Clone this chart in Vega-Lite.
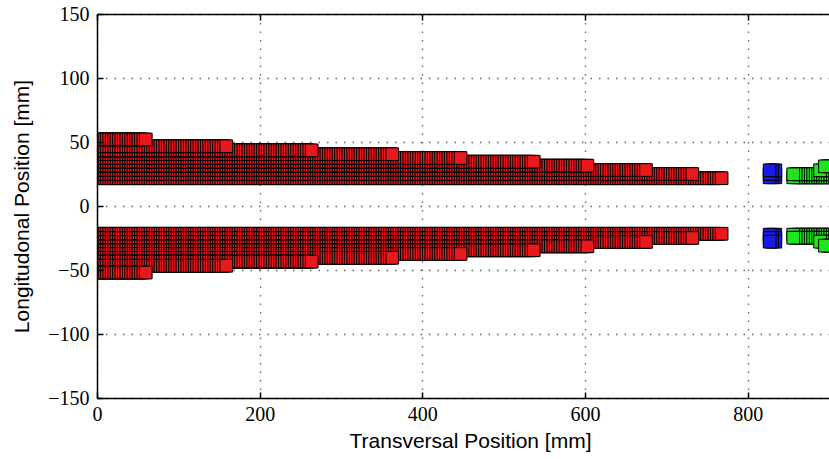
{
"$schema":"https://vega.github.io/schema/vega-lite/v6.json",
"width":732,"height":384,
"autosize":{"type":"none"},
"padding":{"left":97,"top":14,"right":0,"bottom":61},
"background":"white",
"config":{"view":{"stroke":null},
"axis":{"labelFont":"Liberation Serif","labelFontSize":20,"labelColor":"black","titleFont":"Liberation Sans","titleFontSize":21,"titleFontWeight":"normal","titleColor":"black","domainColor":"black","domainWidth":1.5,"tickColor":"black","tickWidth":1.5,"tickSize":-6,"gridColor":"#666","gridDash":[1.5,7],"gridWidth":1.3,"labelFlush":false,"labelOverlap":false,"labelBound":false}},
"datasets":{
"red":[
{"t":21.7,"b":-21.7,"x":[0,3,6,9,12,15,18,21,24,27,30,33,36,39,42,45,48,51,54,57,60,63,66,69,72,75,78,81,84,87,90,93,96,99,102,105,108,111,114,117,120,123,126,129,132,135,138,141,144,147,150,153,156,159,162,165,168,171,174,177,180,183,186,189,192,195,198,201,204,207,210,213,216,219,222,225,228,231,234,237,240,243,246,249,252,255,258,261,264,267,270,273,276,279,282,285,288,291,294,297,300,303,306,309,312,315,318,321,324,327,330,333,336,339,342,345,348,351,354,357,360,363,366,369,372,375,378,381,384,387,390,393,396,399,402,405,408,411,414,417,420,423,426,429,432,435,438,441,444,447,450,453,456,459,462,465,468,471,474,477,480,483,486,489,492,495,498,501,504,507,510,513,516,519,522,525,528,531,534,537,540,543,546,549,552,555,558,561,564,567,570,573,576,579,582,585,588,591,594,597,600,603,606,609,612,615,618,621,624,627,630,633,636,639,642,645,648,651,654,657,660,663,666,669,672,675,678,681,684,687,690,693,696,699,702,705,708,711,714,717,720,723,726,729,732,735,738,741,744,747,750,753,756,759,762,765,768]},
{"t":25,"b":-25,"x":[0,3,6,9,12,15,18,21,24,27,30,33,36,39,42,45,48,51,54,57,60,63,66,69,72,75,78,81,84,87,90,93,96,99,102,105,108,111,114,117,120,123,126,129,132,135,138,141,144,147,150,153,156,159,162,165,168,171,174,177,180,183,186,189,192,195,198,201,204,207,210,213,216,219,222,225,228,231,234,237,240,243,246,249,252,255,258,261,264,267,270,273,276,279,282,285,288,291,294,297,300,303,306,309,312,315,318,321,324,327,330,333,336,339,342,345,348,351,354,357,360,363,366,369,372,375,378,381,384,387,390,393,396,399,402,405,408,411,414,417,420,423,426,429,432,435,438,441,444,447,450,453,456,459,462,465,468,471,474,477,480,483,486,489,492,495,498,501,504,507,510,513,516,519,522,525,528,531,534,537,540,543,546,549,552,555,558,561,564,567,570,573,576,579,582,585,588,591,594,597,600,603,606,609,612,615,618,621,624,627,630,633,636,639,642,645,648,651,654,657,660,663,666,669,672,675,678,681,684,687,690,693,696,699,702,705,708,711,714,717,720,723,726,729,732]},
{"t":28.1,"b":-28.1,"x":[0,3,6,9,12,15,18,21,24,27,30,33,36,39,42,45,48,51,54,57,60,63,66,69,72,75,78,81,84,87,90,93,96,99,102,105,108,111,114,117,120,123,126,129,132,135,138,141,144,147,150,153,156,159,162,165,168,171,174,177,180,183,186,189,192,195,198,201,204,207,210,213,216,219,222,225,228,231,234,237,240,243,246,249,252,255,258,261,264,267,270,273,276,279,282,285,288,291,294,297,300,303,306,309,312,315,318,321,324,327,330,333,336,339,342,345,348,351,354,357,360,363,366,369,372,375,378,381,384,387,390,393,396,399,402,405,408,411,414,417,420,423,426,429,432,435,438,441,444,447,450,453,456,459,462,465,468,471,474,477,480,483,486,489,492,495,498,501,504,507,510,513,516,519,522,525,528,531,534,537,540,543,546,549,552,555,558,561,564,567,570,573,576,579,582,585,588,591,594,597,600,603,606,609,612,615,618,621,624,627,630,633,636,639,642,645,648,651,654,657,660,663,666,669,672,675]},
{"t":31.5,"b":-31.5,"x":[0,3,6,9,12,15,18,21,24,27,30,33,36,39,42,45,48,51,54,57,60,63,66,69,72,75,78,81,84,87,90,93,96,99,102,105,108,111,114,117,120,123,126,129,132,135,138,141,144,147,150,153,156,159,162,165,168,171,174,177,180,183,186,189,192,195,198,201,204,207,210,213,216,219,222,225,228,231,234,237,240,243,246,249,252,255,258,261,264,267,270,273,276,279,282,285,288,291,294,297,300,303,306,309,312,315,318,321,324,327,330,333,336,339,342,345,348,351,354,357,360,363,366,369,372,375,378,381,384,387,390,393,396,399,402,405,408,411,414,417,420,423,426,429,432,435,438,441,444,447,450,453,456,459,462,465,468,471,474,477,480,483,486,489,492,495,498,501,504,507,510,513,516,519,522,525,528,531,534,537,540,543,546,549,552,555,558,561,564,567,570,573,576,579,582,585,588,591,594,597,600,603]},
{"t":34.6,"b":-34.6,"x":[0,3,6,9,12,15,18,21,24,27,30,33,36,39,42,45,48,51,54,57,60,63,66,69,72,75,78,81,84,87,90,93,96,99,102,105,108,111,114,117,120,123,126,129,132,135,138,141,144,147,150,153,156,159,162,165,168,171,174,177,180,183,186,189,192,195,198,201,204,207,210,213,216,219,222,225,228,231,234,237,240,243,246,249,252,255,258,261,264,267,270,273,276,279,282,285,288,291,294,297,300,303,306,309,312,315,318,321,324,327,330,333,336,339,342,345,348,351,354,357,360,363,366,369,372,375,378,381,384,387,390,393,396,399,402,405,408,411,414,417,420,423,426,429,432,435,438,441,444,447,450,453,456,459,462,465,468,471,474,477,480,483,486,489,492,495,498,501,504,507,510,513,516,519,522,525,528,531,534,537]},
{"t":37.5,"b":-37.5,"x":[0,3,6,9,12,15,18,21,24,27,30,33,36,39,42,45,48,51,54,57,60,63,66,69,72,75,78,81,84,87,90,93,96,99,102,105,108,111,114,117,120,123,126,129,132,135,138,141,144,147,150,153,156,159,162,165,168,171,174,177,180,183,186,189,192,195,198,201,204,207,210,213,216,219,222,225,228,231,234,237,240,243,246,249,252,255,258,261,264,267,270,273,276,279,282,285,288,291,294,297,300,303,306,309,312,315,318,321,324,327,330,333,336,339,342,345,348,351,354,357,360,363,366,369,372,375,378,381,384,387,390,393,396,399,402,405,408,411,414,417,420,423,426,429,432,435,438,441,444,447]},
{"t":40.5,"b":-40.5,"x":[0,3,6,9,12,15,18,21,24,27,30,33,36,39,42,45,48,51,54,57,60,63,66,69,72,75,78,81,84,87,90,93,96,99,102,105,108,111,114,117,120,123,126,129,132,135,138,141,144,147,150,153,156,159,162,165,168,171,174,177,180,183,186,189,192,195,198,201,204,207,210,213,216,219,222,225,228,231,234,237,240,243,246,249,252,255,258,261,264,267,270,273,276,279,282,285,288,291,294,297,300,303,306,309,312,315,318,321,324,327,330,333,336,339,342,345,348,351,354,357,360,363]},
{"t":43.5,"b":-43.5,"x":[0,3,6,9,12,15,18,21,24,27,30,33,36,39,42,45,48,51,54,57,60,63,66,69,72,75,78,81,84,87,90,93,96,99,102,105,108,111,114,117,120,123,126,129,132,135,138,141,144,147,150,153,156,159,162,165,168,171,174,177,180,183,186,189,192,195,198,201,204,207,210,213,216,219,222,225,228,231,234,237,240,243,246,249,252,255,258,261,264]},
{"t":46.7,"b":-46.7,"x":[0,3,6,9,12,15,18,21,24,27,30,33,36,39,42,45,48,51,54,57,60,63,66,69,72,75,78,81,84,87,90,93,96,99,102,105,108,111,114,117,120,123,126,129,132,135,138,141,144,147,150,153,156,159]},
{"t":52,"b":-52,"x":[0,3,6,9,12,15,18,21,24,27,30,33,36,39,42,45,48,51,54,57,60]}
],
"blue":[
{"t":22.4,"b":-22.4,"x":[834,830,827]},
{"t":25,"b":-25,"x":[834,830,827]},
{"t":27.9,"b":-27.9,"x":[834,830,827]}
],
"green":[
{"t":22.4,"b":-22.4,"x":[904,901,898,895,892,889,886,883,880,877,874,871,868,865,862,859,856]},
{"t":24.8,"b":-24.8,"x":[904,901,898,895,892,889,886,883,880,877,874,871,868,865,862,859,856]},
{"t":27.9,"b":-27.9,"x":[904,901,898,895,892,889]},
{"t":31,"b":-31,"x":[904,901,898,895]}
]
},
"resolve":{"axis":{"x":"independent","y":"independent"}},
"layer":[
{"data":{"name":"red"},
"transform":[{"flatten":["x"]},{"fold":["t","b"],"as":["side","y"]}],
"mark":{"type":"square","size":160,"fill":"#e8191c","stroke":"black","strokeWidth":1,"opacity":1,"fillOpacity":1,"clip":true},
"encoding":{
"x":{"field":"x","type":"quantitative","scale":{"domain":[0,900],"nice":false,"zero":false},"axis":{"orient":"bottom","values":[0,200,400,600,800],"grid":true,"labels":false,"ticks":false,"domain":false,"title":null,"zindex":0}},
"y":{"field":"y","type":"quantitative","scale":{"domain":[-150,150],"nice":false,"zero":false},"axis":{"orient":"left","values":[-150,-100,-50,0,50,100,150],"grid":true,"labels":false,"ticks":false,"domain":false,"title":null,"zindex":0}}}},
{"data":{"name":"blue"},
"transform":[{"flatten":["x"]},{"fold":["t","b"],"as":["side","y"]}],
"mark":{"type":"square","size":160,"fill":"#1a1ae6","stroke":"black","strokeWidth":1,"opacity":1,"fillOpacity":1,"clip":true},
"encoding":{
"x":{"field":"x","type":"quantitative","scale":{"domain":[0,900],"nice":false,"zero":false},"axis":{"orient":"bottom","values":[0,200,400,600,800],"format":"d","grid":false,"labelPadding":12,"title":"Transversal Position [mm]","titleX":373,"titleY":49,"titleBaseline":"alphabetic","titleAlign":"center","zindex":1}},
"y":{"field":"y","type":"quantitative","scale":{"domain":[-150,150],"nice":false,"zero":false},"axis":{"orient":"left","values":[-150,-100,-50,0,50,100,150],"format":"d","grid":false,"labelPadding":14,"title":"Longitudonal Position [mm]","titleX":-69,"titleY":192,"titleAngle":270,"titleBaseline":"alphabetic","titleAlign":"center","zindex":1}}}},
{"data":{"name":"green"},
"transform":[{"flatten":["x"]},{"fold":["t","b"],"as":["side","y"]}],
"mark":{"type":"square","size":160,"fill":"#1ee61e","stroke":"black","strokeWidth":1,"opacity":1,"fillOpacity":1,"clip":true},
"encoding":{
"x":{"field":"x","type":"quantitative","scale":{"domain":[0,900],"nice":false,"zero":false},"axis":{"orient":"top","values":[0,200,400,600,800],"grid":false,"labels":false,"title":null,"zindex":1}},
"y":{"field":"y","type":"quantitative","scale":{"domain":[-150,150],"nice":false,"zero":false},"axis":null}}}
]
}
